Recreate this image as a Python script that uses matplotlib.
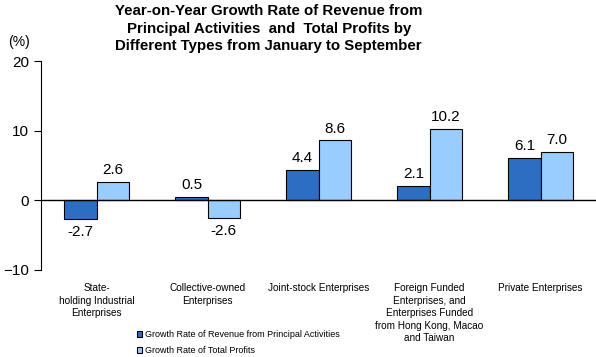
import matplotlib.pyplot as plt
import numpy as np

plt.rcParams['font.family'] = ['Liberation Sans', 'DejaVu Sans']

categories = ["State-\nholding Industrial\nEnterprises",
              "Collective-owned\nEnterprises",
              "Joint-stock Enterprises",
              "Foreign Funded\nEnterprises, and\nEnterprises Funded\nfrom Hong Kong, Macao\nand Taiwan",
              "Private Enterprises"]
revenue = [-2.7, 0.5, 4.4, 2.1, 6.1]
profits = [2.6, -2.6, 8.6, 10.2, 7.0]
labels = ["Growth Rate of Revenue from Principal Activities", "Growth Rate of Total Profits"]

fig = plt.figure(figsize=(5.96, 3.57), dpi=100)
ax = fig.add_axes([0.069, 0.244, 0.931, 0.585])

x = np.arange(len(categories))
w = 0.29
b1 = ax.bar(x - w/2, revenue, w, color='#2E6EC2', edgecolor='black', linewidth=0.8, label=labels[0])
b2 = ax.bar(x + w/2, profits, w, color='#99CCFF', edgecolor='black', linewidth=0.8, label=labels[1])

for bars, vals in [(b1, revenue), (b2, profits)]:
    for r, v in zip(bars, vals):
        cx = r.get_x() + r.get_width()/2
        if v >= 0:
            ax.text(cx, v + 0.7, f"{v:.1f}", ha='center', va='bottom', fontsize=11)
        else:
            ax.text(cx, v - 0.8, f"{v:.1f}", ha='center', va='top', fontsize=11)

ax.set_xlim(-0.5, len(categories) - 0.5)
ax.set_ylim(-10, 20)
ax.set_yticks([-10, 0, 10, 20])
ax.tick_params(axis='y', labelsize=11, length=5, width=0.8)
ax.axhline(0, color='black', linewidth=1)
for s in ['top', 'right', 'bottom']:
    ax.spines[s].set_visible(False)
ax.spines['left'].set_linewidth(0.8)

ax.set_xticks([])
for xi, c in zip(x, categories):
    ax.text(xi, -11.9, c, ha='center', va='top', fontsize=7.2, linespacing=1.32)

fig.text(0.013, 0.882, "(%)", fontsize=10, ha='left', va='center')
fig.text(0.451, 0.988, "Year-on-Year Growth Rate of Revenue from\nPrincipal Activities  and  Total Profits by\nDifferent Types from January to September",
         ha='center', va='top', fontsize=10.8, fontweight='bold', linespacing=1.3)

fig.legend(handles=[b1, b2], labels=labels, loc='upper left', bbox_to_anchor=(0.222, 0.087),
           frameon=False, fontsize=6.5,
           handlelength=0.6, handleheight=0.6, handletextpad=0.3, labelspacing=0.75, borderpad=0)

fig.savefig('out.png', dpi=100)
